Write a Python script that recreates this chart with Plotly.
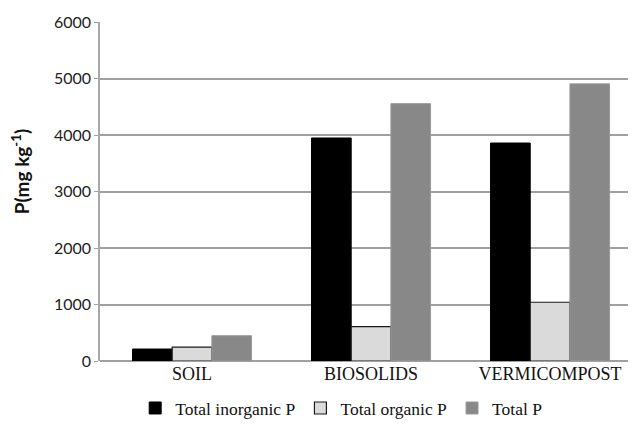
import plotly.graph_objects as go

categories = ["SOIL", "BIOSOLIDS", "VERMICOMPOST"]
inorganic_p = [212, 3947, 3858]
organic_p = [245, 607, 1040]
total_p = [448, 4555, 4905]
y_tick_step = 1000
y_max = 6000

fig = go.Figure()
fig.add_trace(go.Bar(x=categories, y=inorganic_p, name="Total inorganic P",
                     marker=dict(color="#000000", line=dict(color="#000000", width=1))))
fig.add_trace(go.Bar(x=categories, y=organic_p, name="Total organic P",
                     marker=dict(color="#dadada", line=dict(color="#1a1a1a", width=1.2))))
fig.add_trace(go.Bar(x=categories, y=total_p, name="Total P",
                     marker=dict(color="#888888", line=dict(color="#9a9a9a", width=1))))

fig.update_layout(
    width=628, height=426,
    margin=dict(l=92, r=0, t=14, b=73),
    paper_bgcolor="white", plot_bgcolor="#ffffff",
    barmode="group", bargap=0.335, bargroupgap=0,
    showlegend=True,
    legend=dict(orientation="h", x=0.45, xanchor="center", y=-0.139, yanchor="middle",
                font=dict(family="Liberation Serif, Times New Roman, serif", size=17.5, color="#111"),
                itemwidth=30, traceorder="normal", bgcolor="rgba(0,0,0,0)"),
    xaxis=dict(range=[-0.514, 2.48], showgrid=False, showline=False, ticks="", zeroline=False,
               tickfont=dict(family="Liberation Serif, Times New Roman, serif", size=18, color="#111")),
    yaxis=dict(range=[0, y_max], tickmode="linear", tick0=0, dtick=y_tick_step,
               showgrid=True, gridcolor="#a0a0a0", gridwidth=2,
               showline=True, linecolor="#a8a8a8", linewidth=1.5,
               zeroline=True, zerolinecolor="#a0a0a0", zerolinewidth=2,
               ticks="outside", ticklen=4, tickcolor="#a0a0a0",
               tickfont=dict(family="Lato, sans-serif", size=16, color="#222")),
    annotations=[dict(text="<b>P(mg kg<sup>-1</sup>)</b>", xref="paper", yref="paper",
                      x=-0.149, y=0.56, xanchor="center", yanchor="middle", textangle=-90,
                      showarrow=False,
                      font=dict(family="Lato, sans-serif", size=19, color="#111"))],
)

fig.write_html("out.html")
